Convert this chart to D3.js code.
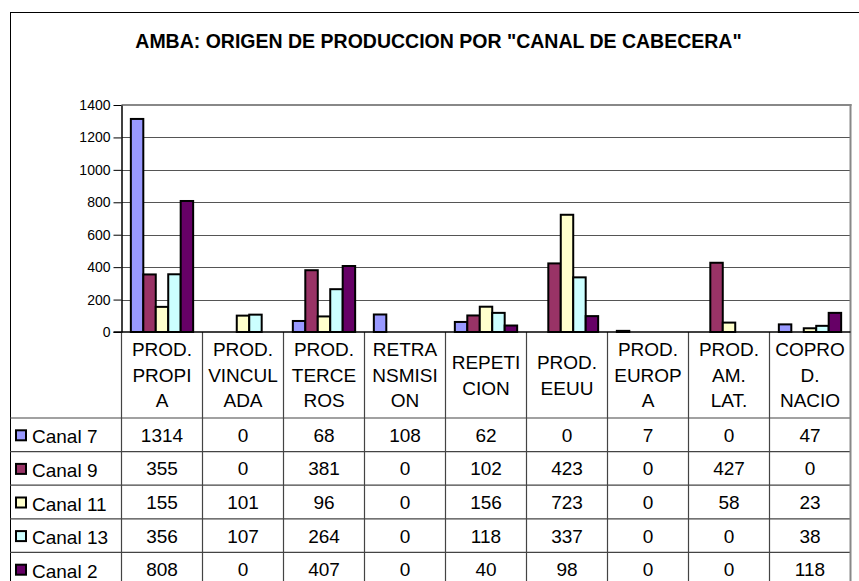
<!DOCTYPE html>
<html>
<head>
<meta charset="utf-8">
<script src="https://cdn.jsdelivr.net/npm/d3@7"></script>
<style>
  html, body { margin: 0; padding: 0; background: #fff; }
  svg { display: block; font-family: "Liberation Sans", Arial, sans-serif; }
</style>
</head>
<body>
<svg id="chart" width="859" height="581"></svg>
<script>
// ---- DATA ----
const title = 'AMBA: ORIGEN DE PRODUCCION POR "CANAL DE CABECERA"';
const categories = ["PROD. PROPIA", "PROD. VINCULADA", "PROD. TERCEROS", "RETRANSMISION",
  "REPETICION", "PROD. EEUU", "PROD. EUROPA", "PROD. AM. LAT.", "COPROD. NACIO"];
const categoryLines = [
  ["PROD.", "PROPI", "A"],
  ["PROD.", "VINCUL", "ADA"],
  ["PROD.", "TERCE", "ROS"],
  ["RETRA", "NSMISI", "ON"],
  ["REPETI", "CION"],
  ["PROD.", "EEUU"],
  ["PROD.", "EUROP", "A"],
  ["PROD.", "AM.", "LAT."],
  ["COPRO", "D.", "NACIO"]
];
const seriesNames = ["Canal 7", "Canal 9", "Canal 11", "Canal 13", "Canal 2"];
const canal7  = [1314, 0, 68, 108, 62, 0, 7, 0, 47];
const canal9  = [355, 0, 381, 0, 102, 423, 0, 427, 0];
const canal11 = [155, 101, 96, 0, 156, 723, 0, 58, 23];
const canal13 = [356, 107, 264, 0, 118, 337, 0, 0, 38];
const canal2  = [808, 0, 407, 0, 40, 98, 0, 0, 118];
const seriesColors = ["#9999FF", "#993366", "#FFFFCC", "#CCFFFF", "#660066"];
const yTicks = [0, 200, 400, 600, 800, 1000, 1200, 1400];

const seriesValues = [canal7, canal9, canal11, canal13, canal2];

// ---- LAYOUT ----
const svg = d3.select("#chart");
const plotLeft = 121.5, plotRight = 850.5, plotTop = 105, plotBottom = 332;
const tableLeft = 10, headerBottom = 418, rowH = 33.6;
const fontTable = 19;

// outer frame
svg.append("rect")
  .attr("x", 10.5).attr("y", 12.5)
  .attr("width", 870).attr("height", 600)
  .attr("fill", "#fff").attr("stroke", "#000").attr("stroke-width", 1);

// title
svg.append("text")
  .attr("x", 438.5).attr("y", 48)
  .attr("text-anchor", "middle")
  .attr("font-weight", "bold")
  .attr("font-size", 19.5)
  .attr("fill", "#000")
  .text(title);

// scales
const x0 = d3.scaleBand().domain(categories).range([plotLeft, plotRight]).paddingInner(0).paddingOuter(0);
const x1 = d3.scaleBand().domain(seriesNames).range([0, x0.bandwidth()]).paddingInner(0).paddingOuter(0.75);
const y = d3.scaleLinear().domain([0, 1400]).range([plotBottom, plotTop]);

// gridlines
const grid = svg.append("g").attr("transform", `translate(${plotLeft},0)`)
  .call(d3.axisLeft(y).tickValues(yTicks.filter(t => t > 0 && t < 1400)).tickSize(-(plotRight - plotLeft)).tickFormat(""));
grid.select(".domain").remove();
grid.selectAll("line").attr("stroke", "#555").attr("stroke-width", 1)
  .attr("shape-rendering", "crispEdges");

// plot top border (gray)
svg.append("line").attr("x1", plotLeft).attr("x2", plotRight + 1).attr("y1", y(1400)).attr("y2", y(1400))
  .attr("stroke", "#888").attr("stroke-width", 2);

// bars
const groups = svg.append("g").selectAll("g")
  .data(categories).join("g")
  .attr("transform", d => `translate(${x0(d)},0)`);

groups.selectAll("rect")
  .data((d, i) => seriesNames.map((s, j) => ({ s, v: seriesValues[j][i], c: seriesColors[j] })).filter(e => e.v > 0))
  .join("rect")
  .attr("x", d => x1(d.s))
  .attr("width", x1.bandwidth())
  .attr("y", d => y(d.v))
  .attr("height", d => y(0) - y(d.v))
  .attr("fill", d => d.c)
  .attr("stroke", "#000")
  .attr("stroke-width", 2);

// y axis
const yAxis = svg.append("g").attr("transform", `translate(${plotLeft},0)`)
  .call(d3.axisLeft(y).tickValues(yTicks).tickFormat(d3.format("d")).tickSize(8).tickSizeOuter(0).tickPadding(3));
yAxis.select(".domain").attr("stroke", "#000").attr("stroke-width", 1.5);
yAxis.selectAll(".tick line").attr("stroke", "#000").attr("stroke-width", 1);
yAxis.selectAll(".tick text").attr("font-size", 14).attr("fill", "#000")
  .attr("font-family", '"Liberation Sans", Arial, sans-serif');

// ---- DATA TABLE ----
const nRows = seriesNames.length;
const tableBottom = headerBottom + rowH * nRows;
const tableColor = "#444";
const tbl = svg.append("g");

// horizontal lines
tbl.append("line").attr("x1", tableLeft).attr("x2", plotRight).attr("y1", headerBottom).attr("y2", headerBottom)
  .attr("stroke", tableColor).attr("stroke-width", 1.2);
seriesNames.forEach((s, i) => {
  const yy = headerBottom + rowH * (i + 1);
  tbl.append("line").attr("x1", tableLeft).attr("x2", plotRight).attr("y1", yy).attr("y2", yy)
    .attr("stroke", tableColor).attr("stroke-width", 1.2);
});
// vertical lines
categories.forEach(c => {
  tbl.append("line").attr("x1", x0(c)).attr("x2", x0(c)).attr("y1", plotBottom).attr("y2", tableBottom + 10)
    .attr("stroke", tableColor).attr("stroke-width", 1.2);
});
// right border through plot and table
svg.append("line").attr("x1", plotRight).attr("x2", plotRight).attr("y1", plotTop - 1).attr("y2", tableBottom + 10)
  .attr("stroke", "#888").attr("stroke-width", 2);

// zero axis line
svg.append("line").attr("x1", plotLeft - 8).attr("x2", plotRight).attr("y1", y(0)).attr("y2", y(0))
  .attr("stroke", "#000").attr("stroke-width", 1.5);

// header labels
const headerCenter = (plotBottom + headerBottom) / 2;
const lineH = 25.5;
categories.forEach((c, i) => {
  const lines = categoryLines[i];
  const t = tbl.append("text")
    .attr("text-anchor", "middle")
    .attr("font-size", fontTable)
    .attr("fill", "#000");
  const y0 = headerCenter - (lines.length - 1) * lineH / 2 + 6.8;
  lines.forEach((ln, k) => {
    t.append("tspan").attr("x", x0(c) + x0.bandwidth() / 2).attr("y", y0 + k * lineH).text(ln);
  });
});

// rows
seriesNames.forEach((s, i) => {
  const rc = headerBottom + rowH * i + rowH / 2;
  tbl.append("rect")
    .attr("x", 16).attr("y", rc - 4.5)
    .attr("width", 10).attr("height", 10)
    .attr("fill", seriesColors[i]).attr("stroke", "#000").attr("stroke-width", 2);
  tbl.append("text")
    .attr("x", 32).attr("y", rc + 8.5)
    .attr("font-size", fontTable).attr("fill", "#000")
    .text(s);
  categories.forEach((c, j) => {
    tbl.append("text")
      .attr("x", x0(c) + x0.bandwidth() / 2).attr("y", rc + 7)
      .attr("text-anchor", "middle")
      .attr("font-size", fontTable).attr("fill", "#000")
      .text(seriesValues[i][j]);
  });
});
</script>
</body>
</html>
